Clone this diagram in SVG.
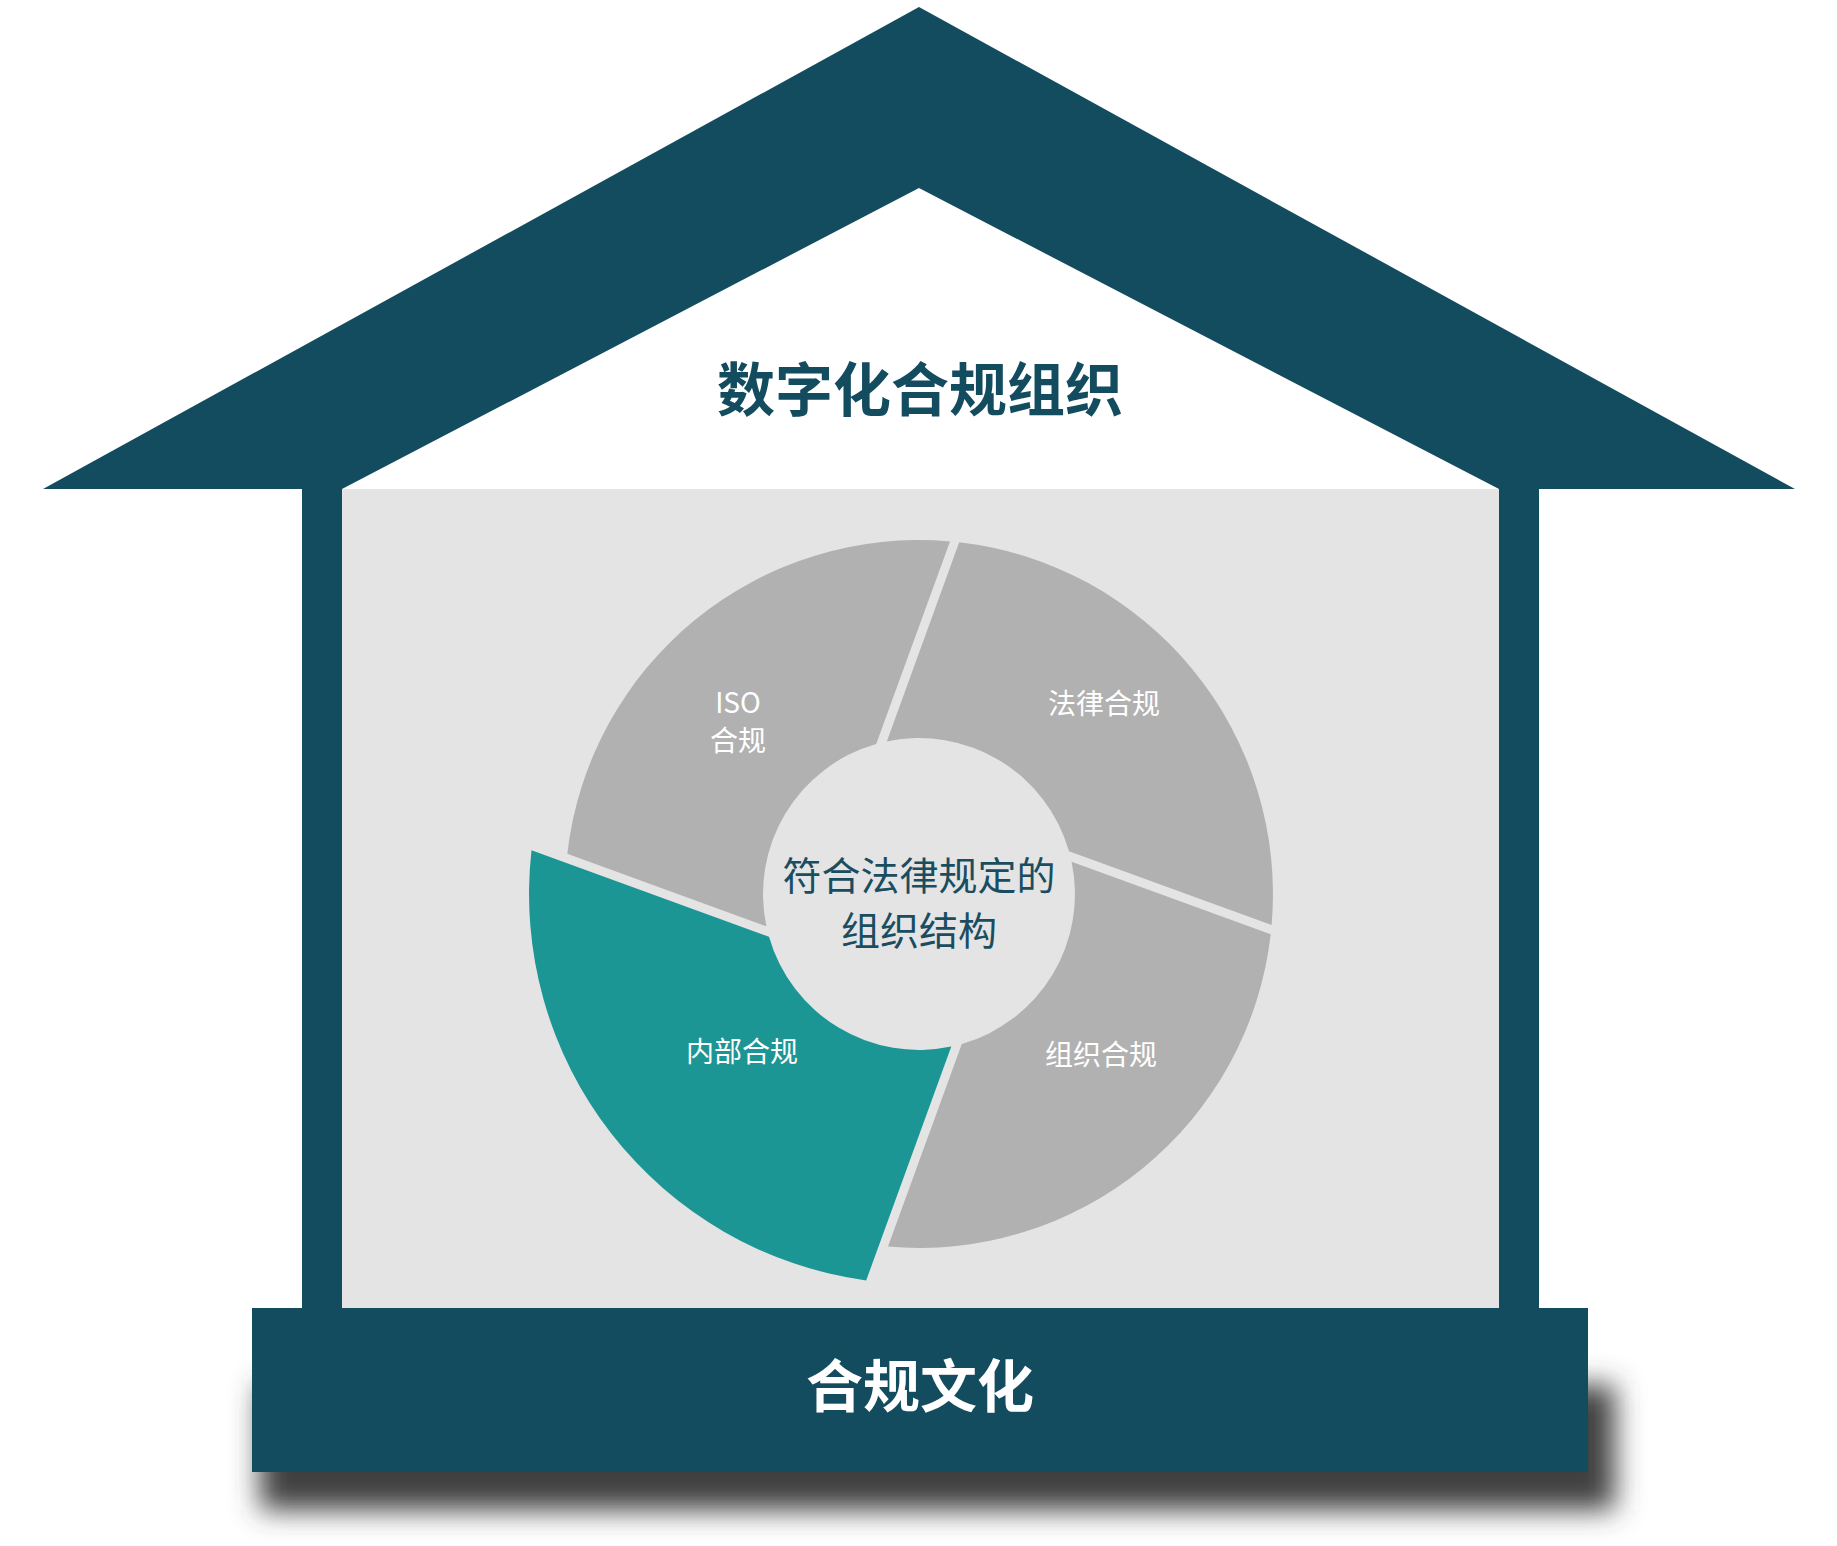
<svg xmlns="http://www.w3.org/2000/svg" width="1837" height="1546" viewBox="0 0 1837 1546">
  <defs>
    <filter id="shadowBlur" x="-10%" y="-50%" width="120%" height="200%">
      <feGaussianBlur stdDeviation="14"/>
    </filter>
  </defs>
  <style>
    .dark { fill: #134c5f; }
    .bg { fill: #e4e4e4; }
    .seg { fill: #b2b1b1; }
    .teal { fill: #1b9694; }
    .cjk { font-family: "Noto Sans CJK SC", "Noto Sans", "Liberation Sans", sans-serif; text-anchor: middle; }
    .label { font-size: 28px; fill: #ffffff; font-weight: 400; }
    .centerText { font-size: 39px; fill: #1a4d60; font-weight: 400; }
    .title { font-size: 58px; fill: #134c5f; font-weight: 700; }
    .baseText { font-size: 57px; fill: #ffffff; font-weight: 700; }
  </style>
  <rect x="0" y="0" width="1837" height="1546" fill="#ffffff"/>

  <g id="roof">
    <path class="dark" fill-rule="evenodd" d="M43 489 L919 7 L1795 489 Z M342 489 L919 188 L1499 489 Z"/>
    <text class="cjk title" x="920" y="411">数字化合规组织</text>
  </g>

  <g id="walls">
    <rect class="dark" x="302" y="489" width="40" height="819"/>
    <rect class="dark" x="1499" y="489" width="40" height="819"/>
    <rect class="bg" x="342" y="489" width="1157" height="819"/>
  </g>

  <g id="segment-iso">
    <path class="seg" d="M567.3 853.8 A354 354 0 0 1 950.0 541.4 L876.2 744.0 A156 156 0 0 0 766.4 926.3 Z"/>
    <text class="cjk label" x="738" y="713" font-weight="500">ISO</text>
    <text class="cjk label" x="738" y="751">合规</text>
  </g>

  <g id="segment-legal">
    <path class="seg" d="M959.2 542.3 A354 354 0 0 1 1271.6 925.0 L1069.0 851.2 A156 156 0 0 0 886.8 741.4 Z"/>
    <text class="cjk label" x="1104" y="714">法律合规</text>
  </g>

  <g id="segment-org">
    <path class="seg" d="M1270.7 934.2 A354 354 0 0 1 888.0 1246.6 L961.8 1044.0 A156 156 0 0 0 1071.6 861.8 Z"/>
    <text class="cjk label" x="1101" y="1065">组织合规</text>
  </g>

  <g id="segment-internal">
    <path class="teal" d="M866.2 1280.4 A390 390 0 0 1 531.5 850.3 L769.0 936.8 A156 156 0 0 0 951.3 1046.6 Z"/>
    <text class="cjk label" x="742" y="1062">内部合规</text>
  </g>

  <g id="center">
    <circle class="bg" cx="919" cy="894" r="150"/>
    <text class="cjk centerText" x="919" y="890">符合法律规定的</text>
    <text class="cjk centerText" x="919" y="945">组织结构</text>
  </g>

  <g id="base">
    <rect x="260" y="1385" width="1355" height="125" fill="#404040" filter="url(#shadowBlur)"/>
    <rect class="dark" x="252" y="1308" width="1336" height="164"/>
    <text class="cjk baseText" x="920" y="1407">合规文化</text>
  </g>

  <g id="connectors"/>
</svg>
